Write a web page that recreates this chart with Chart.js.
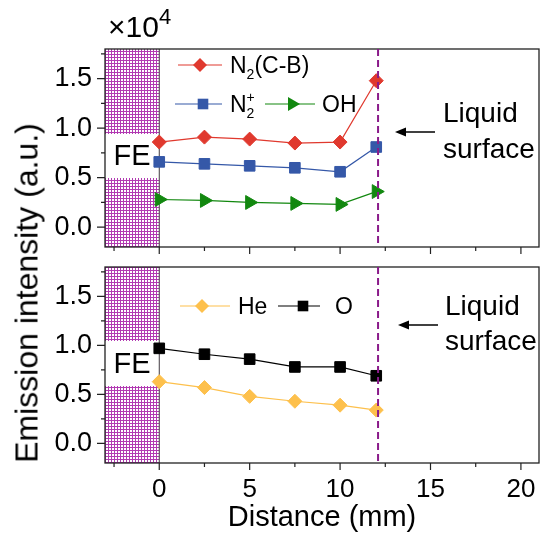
<!DOCTYPE html>
<html>
<head>
<meta charset="utf-8">
<script src="https://cdn.jsdelivr.net/npm/chart.js@4.4.1/dist/chart.umd.min.js"></script>
<style>
  body { margin: 0; background: #fff; width: 541px; height: 535px; position: relative; overflow: hidden;
         font-family: "Liberation Sans", Arial, sans-serif; color: #000; }
  #topChart { position: absolute; left: 0; top: 0; }
  #botChart { position: absolute; left: 0; top: 255px; }
  .ytitle { position: absolute; left: 27px; top: 293px; transform: translate(-50%, -50%) rotate(-90deg);
            font-size: 32px; white-space: nowrap; }
  .mult { position: absolute; left: 108px; top: 12px; font-size: 30px; line-height: 1; white-space: nowrap; }
  .mult sup { font-size: 22px; position: relative; top: -6px; vertical-align: top; }
</style>
</head>
<body>
<canvas id="topChart" width="541" height="255"></canvas>
<canvas id="botChart" width="541" height="280"></canvas>
<div class="ytitle">Emission intensity (a.u.)</div>
<div class="mult">×10<sup>4</sup></div>
<script>
// distance from the electrode (mm) and intensities in units of 1e4
const distance = [0, 2.5, 5, 7.5, 10, 12];
const n2CB   = [0.86, 0.91, 0.89, 0.85, 0.86, 1.48];
const n2Plus = [0.66, 0.64, 0.62, 0.60, 0.56, 0.81];
const oh     = [0.28, 0.27, 0.25, 0.24, 0.23, 0.36];
const he     = [0.63, 0.57, 0.48, 0.43, 0.39, 0.34];
const oAtom  = [0.97, 0.91, 0.86, 0.78, 0.78, 0.69];

const xTicks  = [-2.5, 0, 2.5, 5, 7.5, 10, 12.5, 15, 17.5, 20];
const xLabels = [0, 5, 10, 15, 20];
const yTicks  = [0, 0.25, 0.5, 0.75, 1, 1.25, 1.5, 1.75];
const yLabels = [0, 0.5, 1, 1.5];
const feEdge = 0;        // end of the field-emission region
const surfaceAt = 12.1;  // liquid surface position

const FONT = '"Liberation Sans", Arial, sans-serif';

// small checker used to fill the FE region
function hatch(ctx) {
  const c = document.createElement('canvas');
  c.width = 3; c.height = 3;
  const g = c.getContext('2d');
  g.fillStyle = '#b23ab2';
  g.fillRect(0, 0, 3, 3);
  g.fillStyle = '#ffffff';
  g.fillRect(1, 1, 2, 2);
  return ctx.createPattern(c, 'repeat');
}

function marker(ctx, style, x, y, r, color) {
  ctx.save();
  ctx.fillStyle = color;
  ctx.beginPath();
  if (style === 'rectRot') {
    ctx.moveTo(x - r, y); ctx.lineTo(x, y - r); ctx.lineTo(x + r, y); ctx.lineTo(x, y + r);
  } else if (style === 'rect') {
    const s = r * Math.SQRT1_2;
    ctx.rect(x - s, y - s, 2 * s, 2 * s);
  } else {
    // triangle pointing right
    ctx.moveTo(x + r, y);
    ctx.lineTo(x - r / 2, y - r * 0.866);
    ctx.lineTo(x - r / 2, y + r * 0.866);
  }
  ctx.closePath();
  ctx.fill();
  ctx.restore();
}

// text with optional sub/superscripts: parts like {t, sub, sup}
function richText(ctx, parts, x, y, size) {
  ctx.save();
  ctx.textBaseline = 'alphabetic';
  ctx.fillStyle = '#000';
  for (const p of parts) {
    if (p.sub || p.sup) {
      ctx.font = Math.round(size * 0.6) + 'px ' + FONT;
      let w = 0;
      if (p.sub) { ctx.fillText(p.sub, x, y + size * 0.28); w = ctx.measureText(p.sub).width; }
      if (p.sup) { ctx.fillText(p.sup, x, y - size * 0.45); w = Math.max(w, ctx.measureText(p.sup).width); }
      x += w;
    } else {
      ctx.font = size + 'px ' + FONT;
      ctx.fillText(p.t, x, y);
      x += ctx.measureText(p.t).width;
    }
  }
  ctx.restore();
}

const decor = {
  id: 'decor',
  beforeDatasetsDraw(chart) {
    const o = chart.options.plugins.decor;
    const { ctx, chartArea: a, scales: { x, y } } = chart;
    const xe = x.getPixelForValue(feEdge);
    ctx.save();
    // FE region
    ctx.fillStyle = hatch(ctx);
    ctx.fillRect(a.left, a.top, xe - a.left, a.bottom - a.top);
    ctx.fillStyle = '#fff';
    ctx.fillRect(a.left, a.top + o.feTop, xe - a.left, o.feH);
    ctx.fillStyle = '#000';
    ctx.font = '29px ' + FONT;
    ctx.textAlign = 'center';
    ctx.textBaseline = 'middle';
    ctx.fillText('FE', (a.left + xe) / 2, a.top + o.feTop + o.feH / 2 + 1);
    ctx.strokeStyle = '#444';
    ctx.lineWidth = 1;
    ctx.beginPath();
    ctx.moveTo(xe, a.top); ctx.lineTo(xe, a.bottom);
    ctx.stroke();
    // frame
    ctx.strokeStyle = '#222';
    ctx.lineWidth = 1.3;
    ctx.strokeRect(a.left, a.top, a.right - a.left, a.bottom - a.top);
    // tick marks, long for labelled ticks
    ctx.lineWidth = 1.2;
    ctx.beginPath();
    for (const t of x.ticks) {
      const px = x.getPixelForValue(t.value);
      const len = xLabels.includes(t.value) ? 7 : 4;
      ctx.moveTo(px, a.bottom); ctx.lineTo(px, a.bottom + len);
    }
    for (const t of y.ticks) {
      const py = y.getPixelForValue(t.value);
      const len = yLabels.includes(t.value) ? 8 : 4;
      ctx.moveTo(a.left, py); ctx.lineTo(a.left - len, py);
    }
    ctx.stroke();
    ctx.restore();
  },
  afterDatasetsDraw(chart) {
    const o = chart.options.plugins.decor;
    const { ctx, chartArea: a, scales: { x } } = chart;
    ctx.save();
    // liquid surface
    const xs = x.getPixelForValue(surfaceAt);
    ctx.strokeStyle = '#8a1a8a';
    ctx.lineWidth = 2;
    ctx.setLineDash([7, 4]);
    ctx.beginPath();
    ctx.moveTo(xs, a.top); ctx.lineTo(xs, a.bottom);
    ctx.stroke();
    ctx.setLineDash([]);
    // legend
    for (const it of o.legend) {
      const ds = chart.data.datasets[it.ds];
      const yy = a.top + it.y;
      ctx.strokeStyle = ds.borderColor;
      ctx.lineWidth = 1.2;
      ctx.beginPath();
      ctx.moveTo(a.left + it.x0, yy); ctx.lineTo(a.left + it.x1, yy);
      ctx.stroke();
      marker(ctx, ds.pointStyle, a.left + it.mx, yy, ds.pointRadius, ds.backgroundColor);
      richText(ctx, it.text, a.left + it.tx, yy + 8, 23);
    }
    // arrow + label
    const ay = a.top + o.arrow.y;
    ctx.strokeStyle = '#000';
    ctx.fillStyle = '#000';
    ctx.lineWidth = 1.5;
    ctx.beginPath();
    ctx.moveTo(a.left + o.arrow.x0, ay); ctx.lineTo(a.left + o.arrow.x1 + 6, ay);
    ctx.stroke();
    ctx.beginPath();
    ctx.moveTo(a.left + o.arrow.x1, ay);
    ctx.lineTo(a.left + o.arrow.x1 + 11, ay - 4.5);
    ctx.lineTo(a.left + o.arrow.x1 + 11, ay + 4.5);
    ctx.closePath();
    ctx.fill();
    ctx.font = '28px ' + FONT;
    ctx.textAlign = 'left';
    ctx.textBaseline = 'alphabetic';
    ctx.fillText('Liquid', a.left + o.note.x, a.top + o.note.y1);
    ctx.fillText('surface', a.left + o.note.x, a.top + o.note.y2);
    ctx.restore();
  }
};

function series(label, data, color, style, radius) {
  return {
    label, data: distance.map((d, i) => ({ x: d, y: data[i] })),
    borderColor: color, backgroundColor: color,
    borderWidth: 1.2, pointStyle: style, pointRadius: radius,
    pointBorderWidth: 1, pointBorderColor: color, pointBackgroundColor: color,
    pointRotation: style === 'triangle' ? 90 : 0,
  };
}

function panel(canvas, datasets, showX, pad, xHeight, decorOpts) {
  return new Chart(canvas, {
    type: 'line',
    data: { datasets },
    options: {
      responsive: false, animation: false,
      layout: { padding: pad, autoPadding: false },
      plugins: { legend: { display: false }, tooltip: { enabled: false }, decor: decorOpts },
      scales: {
        x: {
          type: 'linear', min: -3, max: 21,
          afterBuildTicks: s => { s.ticks = xTicks.map(v => ({ value: v })); },
          afterFit: s => { s.height = xHeight; s.paddingLeft = 0; s.paddingRight = 0; },
          grid: { display: false, drawTicks: true, tickLength: 8 },
          border: { display: false },
          ticks: {
            display: showX, autoSkip: false, maxRotation: 0, padding: 3, color: '#000',
            font: { size: 26, family: FONT },
            callback: v => xLabels.includes(v) ? String(v) : ''
          },
          title: {
            display: showX, text: 'Distance (mm)', color: '#000',
            font: { size: 29, family: FONT }, padding: { top: 0, bottom: 0 }
          }
        },
        y: {
          type: 'linear', min: -0.2, max: 1.8,
          afterBuildTicks: s => { s.ticks = yTicks.map(v => ({ value: v })); },
          afterFit: s => { s.width = 105; s.paddingTop = 0; s.paddingBottom = 0; },
          grid: { display: false, drawTicks: true, tickLength: 8 },
          border: { display: false },
          ticks: {
            autoSkip: false, padding: 5, color: '#000',
            font: { size: 27, family: FONT },
            callback: v => yLabels.includes(v) ? v.toFixed(1) : ''
          }
        }
      }
    },
    plugins: [decor]
  });
}

panel(document.getElementById('topChart'), [
  series('N2(C-B)', n2CB, '#e0392e', 'rectRot', 7),
  series('N2+', n2Plus, '#3558a8', 'rect', 7.5),
  series('OH', oh, '#12880f', 'triangle', 8),
], false, { top: 49, right: 2, left: 0, bottom: 0 }, 8, {
  feTop: 85, feH: 44,
  legend: [
    { ds: 0, y: 16, x0: 73, x1: 117, mx: 95, tx: 125, text: [{ t: 'N' }, { sub: '2' }, { t: '(C-B)' }] },
    { ds: 1, y: 55, x0: 70, x1: 117, mx: 98, tx: 125, text: [{ t: 'N' }, { sub: '2', sup: '+' }] },
    { ds: 2, y: 55, x0: 160, x1: 210, mx: 187, tx: 217, text: [{ t: 'OH' }] },
  ],
  arrow: { y: 83, x0: 330, x1: 290 },
  note: { x: 338, y1: 73, y2: 109 }
});

panel(document.getElementById('botChart'), [
  series('He', he, '#fdc04c', 'rectRot', 7),
  series('O', oAtom, '#000000', 'rect', 7.5),
], true, { top: 12, right: 2, left: 0, bottom: 0 }, 72, {
  feTop: 74, feH: 45,
  legend: [
    { ds: 0, y: 39, x0: 75, x1: 125, mx: 97, tx: 133, text: [{ t: 'He' }] },
    { ds: 1, y: 39, x0: 173, x1: 215, mx: 198, tx: 230, text: [{ t: 'O' }] },
  ],
  arrow: { y: 58, x0: 333, x1: 293 },
  note: { x: 340, y1: 48, y2: 83 }
});
</script>
</body>
</html>
